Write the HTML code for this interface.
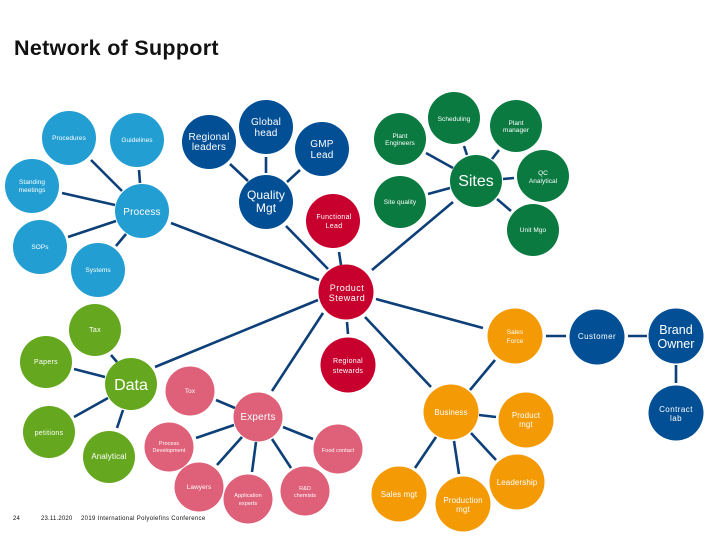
<!DOCTYPE html>
<html><head><meta charset="utf-8"><style>
html,body{margin:0;padding:0;background:#fff}
svg{display:block}
text{font-family:"Liberation Sans",sans-serif;fill:#fff;text-anchor:middle}
.s{font-size:6.5px;letter-spacing:.05px}
.t{font-size:7px;letter-spacing:.3px}
.m{font-size:8px;letter-spacing:.1px}
.c{font-size:8px;letter-spacing:.45px}
.n{font-size:9px;letter-spacing:.5px}
.l{font-size:10px;letter-spacing:.2px}
.q{font-size:12px;letter-spacing:.1px}
.b{font-size:12.5px;letter-spacing:.05px}
.x{font-size:16px;letter-spacing:0}
.f{font-size:6px;fill:#111;text-anchor:start;letter-spacing:.18px}
line{stroke:#0d3f78;stroke-width:2.6}
</style></head><body>
<svg width="720" height="540" viewBox="0 0 720 540" xmlns="http://www.w3.org/2000/svg">
<rect width="720" height="540" fill="#fff"/>
<text x="14" y="55" style="font-size:21.5px;font-weight:bold;fill:#111;text-anchor:start;letter-spacing:.3px">Network of Support</text>
<g>
<line x1="91" y1="160" x2="122" y2="191"/><line x1="139" y1="170" x2="140" y2="183"/><line x1="62" y1="193" x2="115" y2="205"/><line x1="68" y1="237" x2="116" y2="221"/><line x1="116" y1="246" x2="126" y2="234"/><line x1="171" y1="223" x2="319" y2="280"/>
<line x1="230" y1="164" x2="248" y2="181"/><line x1="266" y1="157" x2="266" y2="173"/><line x1="300" y1="170" x2="287" y2="182"/><line x1="286" y1="226" x2="328" y2="269"/><line x1="339" y1="252" x2="341" y2="265"/>
<line x1="426" y1="153" x2="453" y2="168"/><line x1="464" y1="146" x2="467" y2="155"/><line x1="499" y1="150" x2="492" y2="159"/><line x1="503" y1="179" x2="514" y2="178"/><line x1="428" y1="194" x2="450" y2="188"/><line x1="497" y1="199" x2="511" y2="211"/><line x1="453" y1="202" x2="372" y2="270"/>
<line x1="376" y1="299" x2="483" y2="328"/><line x1="365" y1="317" x2="431" y2="387"/><line x1="272" y1="391" x2="323" y2="313"/><line x1="155" y1="367" x2="318" y2="300"/><line x1="347" y1="322" x2="348" y2="334"/>
<line x1="111" y1="355" x2="117" y2="362"/><line x1="74" y1="369" x2="105" y2="377"/><line x1="74" y1="417" x2="108" y2="398"/><line x1="123" y1="410" x2="117" y2="428"/>
<line x1="216" y1="400" x2="235" y2="408"/><line x1="196" y1="438" x2="234" y2="425"/><line x1="217" y1="465" x2="242" y2="437"/><line x1="252" y1="472" x2="256" y2="442"/><line x1="291" y1="468" x2="272" y2="439"/><line x1="313" y1="439" x2="283" y2="427"/>
<line x1="495" y1="360" x2="470" y2="390"/><line x1="546" y1="336" x2="566" y2="336"/><line x1="628" y1="336" x2="647" y2="336"/><line x1="676" y1="365" x2="676" y2="383"/>
<line x1="479" y1="415" x2="496" y2="417"/><line x1="471" y1="433" x2="496" y2="460"/><line x1="454" y1="441" x2="459" y2="474"/><line x1="436" y1="437" x2="415" y2="468"/>
</g>
<g fill="#229ed2">
<circle cx="69" cy="138" r="27"/><circle cx="137" cy="140" r="27"/><circle cx="32" cy="186" r="27"/><circle cx="142" cy="211" r="27"/><circle cx="40" cy="247" r="27"/><circle cx="98" cy="270" r="27"/>
</g>
<g fill="#024f96">
<circle cx="209" cy="142" r="27"/><circle cx="266" cy="127" r="27"/><circle cx="322" cy="149" r="27"/><circle cx="266" cy="202" r="27"/>
<circle cx="597" cy="337" r="27.5"/><circle cx="676" cy="336" r="27.5"/><circle cx="676" cy="413" r="27.5"/>
</g>
<g fill="#c8002d">
<circle cx="333" cy="221" r="27"/><circle cx="346" cy="292" r="27.5"/><circle cx="348" cy="365" r="27.5"/>
</g>
<g fill="#0a7a41">
<circle cx="454" cy="118" r="26"/><circle cx="516" cy="126" r="26"/><circle cx="400" cy="139" r="26"/><circle cx="476" cy="181" r="26"/><circle cx="543" cy="176" r="26"/><circle cx="400" cy="202" r="26"/><circle cx="533" cy="230" r="26"/>
</g>
<g fill="#65a81f">
<circle cx="95" cy="330" r="26"/><circle cx="46" cy="362" r="26"/><circle cx="131" cy="384" r="26"/><circle cx="49" cy="432" r="26"/><circle cx="109" cy="457" r="26"/>
</g>
<g fill="#df6079">
<circle cx="190" cy="391" r="24.5"/><circle cx="258" cy="417" r="24.5"/><circle cx="169" cy="447" r="24.5"/><circle cx="199" cy="487" r="24.5"/><circle cx="248" cy="499" r="24.5"/><circle cx="305" cy="491" r="24.5"/><circle cx="338" cy="449" r="24.5"/>
</g>
<g fill="#f39a05">
<circle cx="515" cy="336" r="27.5"/><circle cx="451" cy="412" r="27.5"/><circle cx="526" cy="420" r="27.5"/><circle cx="517" cy="482" r="27.5"/><circle cx="463" cy="504" r="27.5"/><circle cx="399" cy="494" r="27.5"/>
</g>
<text class="s" x="69" y="140">Procedures</text>
<text class="s" x="137" y="142">Guidelines</text>
<text class="s" x="32" y="184">Standing</text><text class="s" x="32" y="192">meetings</text>
<text class="l" x="142" y="215">Process</text>
<text class="s" x="40" y="249">SOPs</text>
<text class="s" x="98" y="272">Systems</text>
<text class="l" x="209" y="140">Regional</text><text class="l" x="209" y="150">leaders</text>
<text class="l" x="266" y="125">Global</text><text class="l" x="266" y="136">head</text>
<text class="l" x="322" y="147">GMP</text><text class="l" x="322" y="158">Lead</text>
<text class="q" x="266" y="199">Quality</text><text class="q" x="266" y="212">Mgt</text>
<text class="t" x="334" y="219">Functional</text><text class="t" x="334" y="228">Lead</text>
<text class="n" x="347" y="291">Product</text><text class="n" x="347" y="301">Steward</text>
<text class="t" x="348" y="363">Regional</text><text class="t" x="348" y="373">stewards</text>
<text class="s" x="454" y="121">Scheduling</text>
<text class="s" x="516" y="125">Plant</text><text class="s" x="516" y="132">manager</text>
<text class="s" x="400" y="138">Plant</text><text class="s" x="400" y="145">Engineers</text>
<text class="x" x="476" y="186">Sites</text>
<text class="s" x="543" y="175">QC</text><text class="s" x="543" y="183">Analytical</text>
<text class="s" x="400" y="204">Site quality</text>
<text class="s" x="533" y="232">Unit Mgo</text>
<text class="t" x="95" y="332">Tax</text>
<text class="t" x="46" y="364">Papers</text>
<text class="x" x="131" y="390">Data</text>
<text class="t" x="49" y="435">petitions</text>
<text class="m" x="109" y="459">Analytical</text>
<text class="s" x="190" y="393">Tox</text>
<text class="l" x="258" y="420">Experts</text>
<text class="s" x="169" y="445" style="font-size:5.5px">Process</text><text class="s" x="169" y="452" style="font-size:5.5px">Development</text>
<text class="s" x="199" y="489">Lawyers</text>
<text class="s" x="248" y="497" style="font-size:5.5px">Application</text><text class="s" x="248" y="505" style="font-size:5.5px">experts</text>
<text class="s" x="305" y="490" style="font-size:5.5px">R&amp;D</text><text class="s" x="305" y="497" style="font-size:5.5px">chemists</text>
<text class="s" x="338" y="452" style="font-size:5.5px">Food contact</text>
<text class="s" x="515" y="334">Sales</text><text class="s" x="515" y="343">Force</text>
<text class="c" x="597" y="339">Customer</text>
<text class="b" x="676" y="334">Brand</text><text class="b" x="676" y="348">Owner</text>
<text class="c" x="676" y="412">Contract</text><text class="c" x="676" y="421">lab</text>
<text class="m" x="451" y="415">Business</text>
<text class="m" x="526" y="418">Product</text><text class="m" x="526" y="427">mgt</text>
<text class="m" x="517" y="485">Leadership</text>
<text class="m" x="463" y="503">Production</text><text class="m" x="463" y="512">mgt</text>
<text class="m" x="399" y="497">Sales mgt</text>
<text class="f" x="13" y="520">24</text>
<text class="f" x="41" y="520">23.11.2020</text>
<text class="f" x="81" y="520" style="letter-spacing:.32px">2019 International Polyolefins Conference</text>
</svg>
</body></html>
